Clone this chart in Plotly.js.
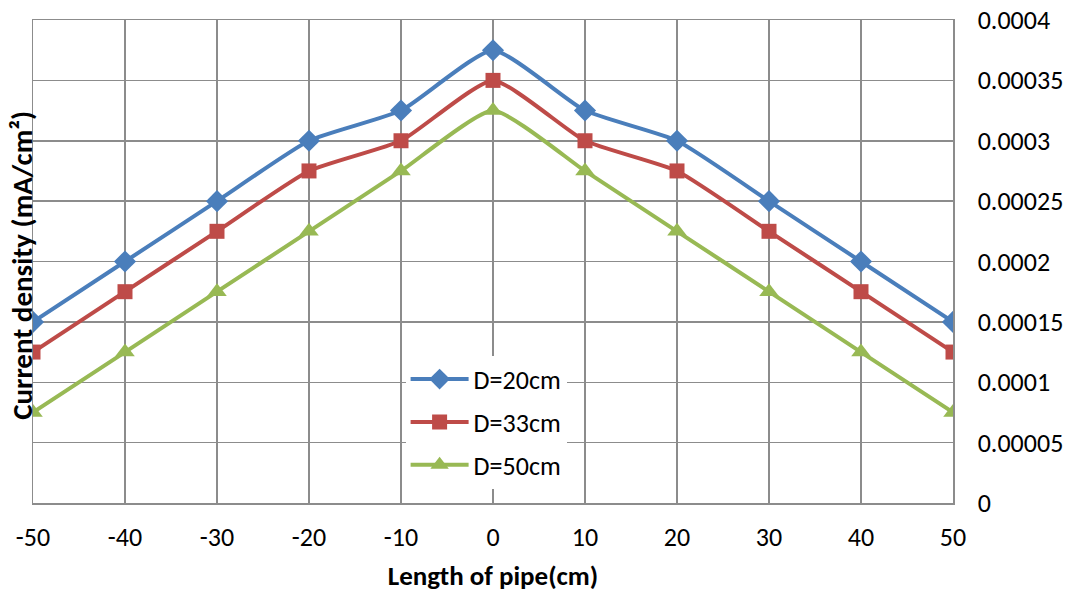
<!DOCTYPE html>
<html><head><meta charset="utf-8">
<script src="https://cdn.plot.ly/plotly-3.0.1.min.js"></script>
<style>body{margin:0;background:#fff}#c{width:1072px;height:592px}</style>
</head><body><div id="c"></div>
<script>
const xVals = [-50,-40,-30,-20,-10,0,10,20,30,40,50];
const d20 = [0.00015,0.0002,0.00025,0.0003,0.000325,0.000375,0.000325,0.0003,0.00025,0.0002,0.00015];
const d33 = [0.000125,0.000175,0.000225,0.000275,0.0003,0.00035,0.0003,0.000275,0.000225,0.000175,0.000125];
const d50 = [0.000075,0.000125,0.000175,0.000225,0.000275,0.000325,0.000275,0.000225,0.000175,0.000125,0.000075];
const seriesNames = ['D=20cm','D=33cm','D=50cm'];
const yTickVals = [0,0.00005,0.0001,0.00015,0.0002,0.00025,0.0003,0.00035,0.0004];
const yTickText = ['0','0.00005','0.0001','0.00015','0.0002','0.00025','0.0003','0.00035','0.0004'];
const xTickVals = [-50,-40,-30,-20,-10,0,10,20,30,40,50];
const xTickText = ['-50','-40','-30','-20','-10','0','10','20','30','40','50'];

const font = 'Carlito, Lato, "Open Sans", sans-serif';
function tr(y, name, color, sym, size, grp){
  return {x:xVals, y:y, name:name, type:'scatter', mode:'lines+markers', legendgroup:grp,
    line:{color:color, width:4, shape:'spline', smoothing:0.5},
    marker:{symbol:sym, size:size, color:color}};
}
const data = [
  tr(d20, seriesNames[0], '#4a7ebb', 'diamond', 17, 'a'),
  tr(d33, seriesNames[1], '#be4b48', 'square', 15, 'b'),
  tr(d50, seriesNames[2], '#98b954', 'triangle-up', 17, 'c')
];
const layout = {
  width:1072, height:592,
  margin:{l:33, r:119, t:20, b:89},
  paper_bgcolor:'#fff', plot_bgcolor:'#fff',
  font:{family:font, size:26, color:'#000'},
  showlegend:true,
  legend:{x:0.405, y:0.305, xanchor:'left', yanchor:'top', bgcolor:'#fff',
    font:{size:26, family:font}, tracegroupgap:6, itemwidth:58, traceorder:'grouped'},
  xaxis:{range:[-50,50], tickvals:xTickVals, ticktext:xTickText, showgrid:true, gridcolor:'#8c8c8c', gridwidth:1.5,
    showline:true, linecolor:'#8c8c8c', linewidth:1.5, mirror:true, zeroline:false,
    ticks:'', tickfont:{size:26}, ticklabelstandoff:10,
    title:{text:'<b>Length of pipe(cm)</b>', font:{size:27}, standoff:16}},
  yaxis:{range:[0,0.0004], side:'right', tickvals:yTickVals, ticktext:yTickText,
    showgrid:true, gridcolor:'#8c8c8c', gridwidth:1.5, showline:true, linecolor:'#8c8c8c', linewidth:1.5,
    mirror:true, zeroline:false, ticks:'', tickfont:{size:26}, ticklabelstandoff:18},
  annotations:[{text:'<b>Current density (mA/cm²)</b>', xref:'paper', yref:'paper',
    x:-0.012, y:0.493, textangle:-90, showarrow:false, font:{size:29, family:font}, xanchor:'center', yanchor:'middle'}]
};
Plotly.newPlot('c', data, layout, {displayModeBar:false, staticPlot:true});
</script></body></html>
